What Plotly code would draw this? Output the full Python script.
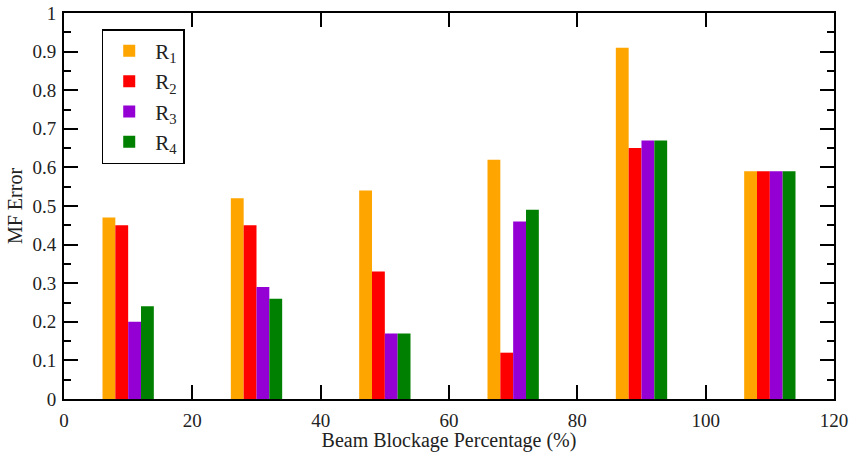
import plotly.graph_objects as go

# Beam blockage percentage groups (centre of each group of bars)
blockage = [10, 30, 50, 70, 90, 110]

# MF error for each retrieval configuration
r1 = [0.47, 0.52, 0.54, 0.62, 0.91, 0.59]
r2 = [0.45, 0.45, 0.33, 0.12, 0.65, 0.59]
r3 = [0.20, 0.29, 0.17, 0.46, 0.67, 0.59]
r4 = [0.24, 0.26, 0.17, 0.49, 0.67, 0.59]

series_names = ["R<sub>1</sub>", "R<sub>2</sub>", "R<sub>3</sub>", "R<sub>4</sub>"]
series_values = [r1, r2, r3, r4]
colors = ["#FFA500", "#FF0000", "#9400D3", "#008000"]
offsets = [-3, -1, 1, 3]
bar_width = 2

FONT = "Liberation Serif, Times New Roman, serif"
TXT = "#222"

fig = go.Figure()
for name, vals, col, off in zip(series_names, series_values, colors, offsets):
    fig.add_trace(go.Bar(
        x=[b + off for b in blockage],
        y=vals,
        width=bar_width,
        name=name,
        marker=dict(color=col, line=dict(width=0)),
    ))

axis_common = dict(
    showline=True, linecolor="black", linewidth=2, mirror="ticks",
    ticks="inside", tickcolor="black", tickwidth=1.5, ticklen=14,
    showgrid=False, zeroline=False, automargin=False,
    tickfont=dict(family=FONT, size=19, color=TXT),
)

fig.update_layout(
    width=852, height=452,
    margin=dict(l=64, r=18, t=13, b=53),
    paper_bgcolor="white", plot_bgcolor="white",
    barmode="overlay",
    showlegend=True,
    font=dict(family=FONT, color=TXT),
    legend=dict(
        x=0.049, y=0.958, xanchor="left", yanchor="top",
        bordercolor="black", borderwidth=1.5, bgcolor="white",
        font=dict(family=FONT, size=21, color=TXT),
        itemwidth=42,
    ),
    xaxis=dict(
        range=[0, 120], dtick=20, tick0=0,
        ticklabelstandoff=3,
        title=dict(text="Beam Blockage Percentage (%)",
                   font=dict(family=FONT, size=20, color=TXT), standoff=0),
        **axis_common,
    ),
    yaxis=dict(
        range=[0, 1], dtick=0.1, tick0=0,
        ticklabelstandoff=2,
        minor=dict(dtick=0.05, ticks="inside", ticklen=7, tickcolor="black", tickwidth=1.5),
        title=dict(text="MF Error",
                   font=dict(family=FONT, size=20, color=TXT), standoff=4),
        **axis_common,
    ),
)

fig.write_html("out.html")
